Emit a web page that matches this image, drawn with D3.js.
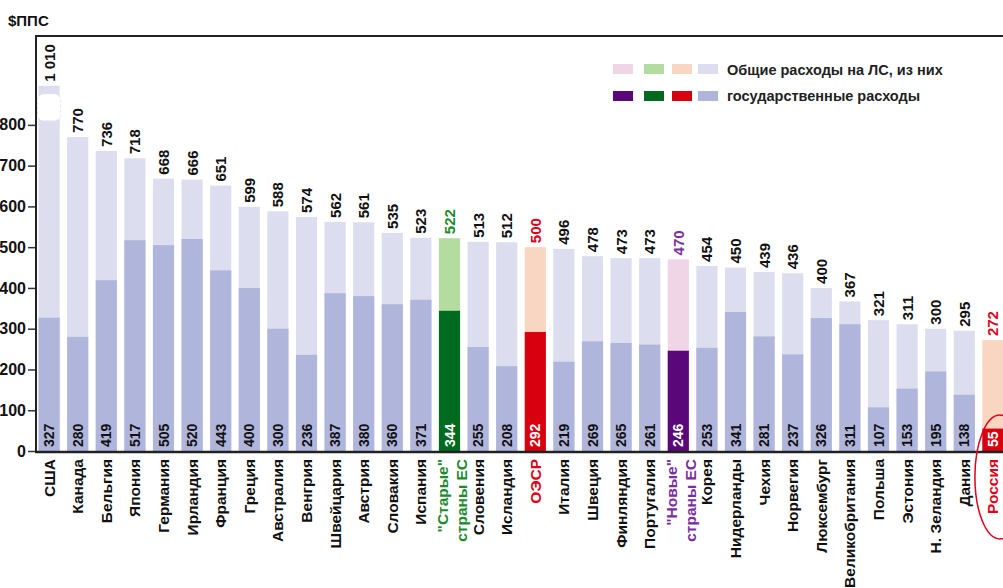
<!DOCTYPE html>
<html>
<head>
<meta charset="utf-8">
<script src="https://cdn.jsdelivr.net/npm/d3@7"></script>
<style>
  body { margin: 0; background: #fff; }
  text { font-family: "Liberation Sans", Arial, sans-serif; }
</style>
</head>
<body>
<script>
// data
var categories = ["США", "Канада", "Бельгия", "Япония", "Германия", "Ирландия", "Франция", "Греция",
  "Австралия", "Венгрия", "Швейцария", "Австрия", "Словакия", "Испания", "\"Старые\"\nстраны ЕС",
  "Словения", "Исландия", "ОЭСР", "Италия", "Швеция", "Финляндия", "Португалия", "\"Новые\"\nстраны ЕС",
  "Корея", "Нидерланды", "Чехия", "Норвегия", "Люксембург", "Великобритания", "Польша", "Эстония",
  "Н. Зеландия", "Дания", "Россия"]
var totals = [1010, 770, 736, 718, 668, 666, 651, 599, 588, 574, 562, 561, 535, 523, 522,
  513, 512, 500, 496, 478, 473, 473, 470, 454, 450, 439, 436, 400, 367, 321, 311, 300, 295, 272]
var govt = [327, 280, 419, 517, 505, 520, 443, 400, 300, 236, 387, 380, 360, 371, 344,
  255, 208, 292, 219, 269, 265, 261, 246, 253, 341, 281, 237, 326, 311, 107, 153, 195, 138, 55]
var groups = ["base", "base", "base", "base", "base", "base", "base", "base", "base", "base", "base",
  "base", "base", "base", "old", "base", "base", "oecd", "base", "base", "base", "base", "new", "base",
  "base", "base", "base", "base", "base", "base", "base", "base", "base", "ru"]
var yTicks = [0, 100, 200, 300, 400, 500, 600, 700, 800]
var legendLabels = ["Общие расходы на ЛС, из них", "государственные расходы"]
var legendGroups = ["new", "old", "oecd", "base"]
var capValue = 896          // the USA bar is cut here
var breakBand = [810, 876]  // white break drawn over the USA bar

var palette = {
  base: { light: "#dcdef0", dark: "#b0b5dc", text: "#111", inner: "#111" },
  old:  { light: "#b4dca0", dark: "#006b1f", text: "#1e8a2e", inner: "#fff" },
  oecd: { light: "#f9d6c1", dark: "#d8000f", text: "#e0001a", inner: "#fff" },
  new:  { light: "#efd5e5", dark: "#5a077a", text: "#7a2ea0", inner: "#fff" },
  ru:   { light: "#f9d6c1", dark: "#d8000f", text: "#e0001a", inner: "#fff" }
}

var rows = categories.map(function(c, i) {
  return { name: c, total: totals[i], govt: govt[i], group: groups[i] }
})

var width = 1003, height = 588
var svg = d3.select("body").append("svg")
  .attr("width", width)
  .attr("height", height)

var x = d3.scaleBand()
  .domain(categories)
  .range([34.8, 1007.2])
  .paddingInner(0.26)
  .paddingOuter(0.13)

var y = d3.scaleLinear()
  .domain([0, 1018])
  .range([451, 36])

function cx(d) { return x(d.name) + x.bandwidth() / 2 }

// total bars
svg.selectAll("rect.total")
  .data(rows)
  .enter().append("rect")
  .attr("class", "total")
  .attr("x", function(d) { return x(d.name) })
  .attr("width", x.bandwidth())
  .attr("y", function(d) { return y(Math.min(d.total, capValue)) })
  .attr("height", function(d) { return y(0) - y(Math.min(d.total, capValue)) })
  .attr("fill", function(d) { return palette[d.group].light })

// government bars
svg.selectAll("rect.govt")
  .data(rows)
  .enter().append("rect")
  .attr("class", "govt")
  .attr("x", function(d) { return x(d.name) })
  .attr("width", x.bandwidth())
  .attr("y", function(d) { return y(d.govt) })
  .attr("height", function(d) { return y(0) - y(d.govt) })
  .attr("fill", function(d) { return palette[d.group].dark })

// break on the bar that is too tall
svg.selectAll("rect.break")
  .data(rows.filter(function(d) { return d.total > capValue }))
  .enter().append("rect")
  .attr("class", "break")
  .attr("x", function(d) { return x(d.name) - 1 })
  .attr("width", x.bandwidth() + 2)
  .attr("y", y(breakBand[1]))
  .attr("height", y(breakBand[0]) - y(breakBand[1]))
  .attr("rx", 6)
  .attr("fill", "#fff")
  .attr("stroke", "#e4e5f2")
  .attr("stroke-dasharray", "3,2")

// labels above bars
svg.selectAll("text.total")
  .data(rows)
  .enter().append("text")
  .attr("class", "total")
  .attr("transform", function(d) {
    return "translate(" + cx(d) + "," + (y(Math.min(d.total, capValue)) - 4) + ") rotate(-90)"
  })
  .attr("dy", "0.36em")
  .attr("font-size", 15)
  .attr("font-weight", "bold")
  .attr("fill", function(d) { return palette[d.group].text })
  .text(function(d) { return d3.format(",")(d.total).replace(",", " ") })

// labels inside bars
svg.selectAll("text.govt")
  .data(rows)
  .enter().append("text")
  .attr("class", "govt")
  .attr("transform", function(d) { return "translate(" + cx(d) + "," + (y(0) - 4) + ") rotate(-90)" })
  .attr("dy", "0.36em")
  .attr("font-size", 14)
  .attr("font-weight", "bold")
  .attr("fill", function(d) { return palette[d.group].inner })
  .text(function(d) { return d.govt })

// y axis
var yAxis = svg.append("g")
  .attr("transform", "translate(36,0)")
  .call(d3.axisLeft(y).tickValues(yTicks).tickSize(8).tickPadding(2))
yAxis.select(".domain").remove()
yAxis.selectAll("line").attr("stroke", "#333").attr("stroke-width", 1.5)
yAxis.selectAll("text")
  .attr("font-family", "Liberation Sans, Arial, sans-serif")
  .attr("font-size", 16)
  .attr("font-weight", "bold")
  .attr("fill", "#111")

// frame
svg.append("path")
  .attr("d", "M36," + y(0) + "V36H" + width)
  .attr("fill", "none")
  .attr("stroke", "#222")
  .attr("stroke-width", 2)
svg.append("line")
  .attr("x1", 35).attr("x2", width)
  .attr("y1", y(0) + 1).attr("y2", y(0) + 1)
  .attr("stroke", "#222")
  .attr("stroke-width", 2.5)

// category labels
var catLabels = svg.selectAll("text.cat")
  .data(rows)
  .enter().append("text")
  .attr("class", "cat")
  .attr("transform", function(d) { return "translate(" + cx(d) + "," + (y(0) + 8) + ") rotate(-90)" })
  .attr("text-anchor", "end")
  .attr("font-size", 15.5)
  .attr("font-weight", "bold")
  .attr("fill", function(d) { return d.group == "base" ? "#111" : palette[d.group].text })

catLabels.each(function(d) {
  var lines = d.name.split("\n")
  var el = d3.select(this)
  lines.forEach(function(line, i) {
    var off = lines.length == 1 ? 0 : (i == 0 ? -7 : 12)
    el.append("tspan")
      .attr("x", 0)
      .attr("y", off)
      .attr("dy", "0.36em")
      .text(line)
  })
})

// Russia highlight
var ru = rows[rows.length - 1]
svg.append("ellipse")
  .attr("cx", cx(ru) + 7)
  .attr("cy", y(0) + 26)
  .attr("rx", 25)
  .attr("ry", 62)
  .attr("fill", "none")
  .attr("stroke", "#e0001a")
  .attr("stroke-width", 1.5)

// legend
var legend = svg.append("g").attr("transform", "translate(613,64)")
legendGroups.forEach(function(g, i) {
  var lx = [0, 31, 59, 85][i]
  legend.append("rect").attr("x", lx).attr("y", 0).attr("width", 20).attr("height", 10)
    .attr("fill", palette[g].light)
  legend.append("rect").attr("x", lx).attr("y", 27).attr("width", 20).attr("height", 10)
    .attr("fill", palette[g].dark)
})
legend.selectAll("text.leg")
  .data(legendLabels)
  .enter().append("text")
  .attr("class", "leg")
  .attr("x", 114)
  .attr("y", function(d, i) { return 11 + i * 26 })
  .attr("font-size", 14.5)
  .attr("font-weight", "bold")
  .attr("fill", "#222")
  .text(function(d) { return d })

// unit
svg.append("text")
  .attr("x", 8)
  .attr("y", 26)
  .attr("font-size", 15)
  .attr("font-weight", "bold")
  .attr("fill", "#111")
  .text("$ППС")
</script>
</body>
</html>
